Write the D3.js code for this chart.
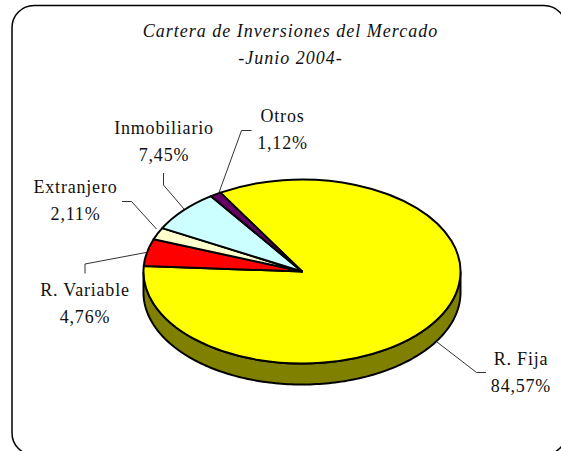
<!DOCTYPE html>
<html>
<head>
<meta charset="utf-8">
<script src="https://cdn.jsdelivr.net/npm/d3@7"></script>
<style>
  html, body { margin: 0; padding: 0; background: #fff; }
  text { font-family: "Liberation Serif", serif; fill: #111; }
</style>
</head>
<body>
<svg id="chart" width="561" height="451" style="display:block"></svg>
<script>
const categories = ["R. Fija", "R. Variable", "Extranjero", "Inmobiliario", "Otros"];
const shares = [84.57, 4.76, 2.11, 7.45, 1.12];
const shareLabels = ["84,57%", "4,76%", "2,11%", "7,45%", "1,12%"];
const sliceColors = ["#ffff00", "#ff0000", "#ffffcc", "#ccffff", "#660066"];
const titleLines = ["Cartera de Inversiones del Mercado", "-Junio 2004-"];

const svg = d3.select("#chart");

const cx = 302;
const cy = 271.5;
const rx = 158.5;
const ry = 92;
const depth = 21;
const startAngle = (-31 * Math.PI) / 180;

// frame
svg
  .append("rect")
  .attr("x", 12)
  .attr("y", 5.5)
  .attr("width", 554)
  .attr("height", 449.5)
  .attr("rx", 22)
  .attr("ry", 22)
  .attr("fill", "#fff")
  .attr("stroke", "#000")
  .attr("stroke-width", 1.5);

// title
svg
  .selectAll("text.title")
  .data(titleLines)
  .join("text")
  .attr("class", "title")
  .attr("x", 290.5)
  .attr("y", (d, i) => 37 + i * 27)
  .attr("text-anchor", "middle")
  .attr("font-style", "italic")
  .attr("font-size", 18)
  .attr("letter-spacing", 1)
  .text((d) => d);

const pie = d3
  .pie()
  .sort(null)
  .startAngle(startAngle)
  .endAngle(startAngle + 2 * Math.PI);
const arcs = pie(shares);

// side wall, only the front half shows
const wallAngles = d3.range(Math.PI / 2, (3 * Math.PI) / 2 + 0.01, 0.02);
const wall = d3
  .area()
  .x((a) => cx + rx * Math.sin(a))
  .y0((a) => cy - ry * Math.cos(a))
  .y1((a) => cy - ry * Math.cos(a) + depth);

svg
  .append("path")
  .attr("d", wall(wallAngles))
  .attr("fill", "#808000")
  .attr("stroke", "#000")
  .attr("stroke-width", 2);

const arc = d3.arc().innerRadius(0).outerRadius(rx);

svg
  .append("g")
  .attr("transform", `translate(${cx},${cy}) scale(1,${ry / rx})`)
  .selectAll("path")
  .data(arcs)
  .join("path")
  .attr("d", arc)
  .attr("fill", (d, i) => sliceColors[i])
  .attr("stroke", "#000")
  .attr("stroke-width", 2)
  .attr("stroke-linejoin", "round")
  .attr("vector-effect", "non-scaling-stroke");

// where each label sits, and the bend of its leader line
const labelPos = [
  { x: 521, y: 365 },
  { x: 85, y: 296 },
  { x: 75.5, y: 193 },
  { x: 164, y: 134 },
  { x: 282.5, y: 122 },
];
const leaderEnd = [
  [
    [437, 342],
    [476.5, 372.5],
    [486, 372.5],
  ],
  [
    [146, 252.5],
    [85, 264],
    [85, 273.5],
  ],
  [
    [156.5, 229],
    [131.5, 201.5],
    [122, 201.5],
  ],
  [
    [184, 209],
    [163.5, 185],
    [163.5, 173],
  ],
  [
    [219, 192.5],
    [241.5, 130.5],
    [251.5, 130.5],
  ],
];
const leader = d3.line();

svg
  .selectAll("path.leader")
  .data(leaderEnd)
  .join("path")
  .attr("class", "leader")
  .attr("d", (d) => leader(d))
  .attr("fill", "none")
  .attr("stroke", "#333")
  .attr("stroke-width", 1);

const labels = svg
  .selectAll("g.label")
  .data(categories)
  .join("g")
  .attr("class", "label")
  .attr("transform", (d, i) => `translate(${labelPos[i].x},${labelPos[i].y})`);

labels
  .append("text")
  .attr("text-anchor", "middle")
  .attr("font-size", 18)
  .attr("letter-spacing", 0.8)
  .text((d) => d);

labels
  .append("text")
  .attr("y", 26.5)
  .attr("text-anchor", "middle")
  .attr("font-size", 18)
  .attr("letter-spacing", 0.8)
  .text((d, i) => shareLabels[i]);
</script>
</body>
</html>
